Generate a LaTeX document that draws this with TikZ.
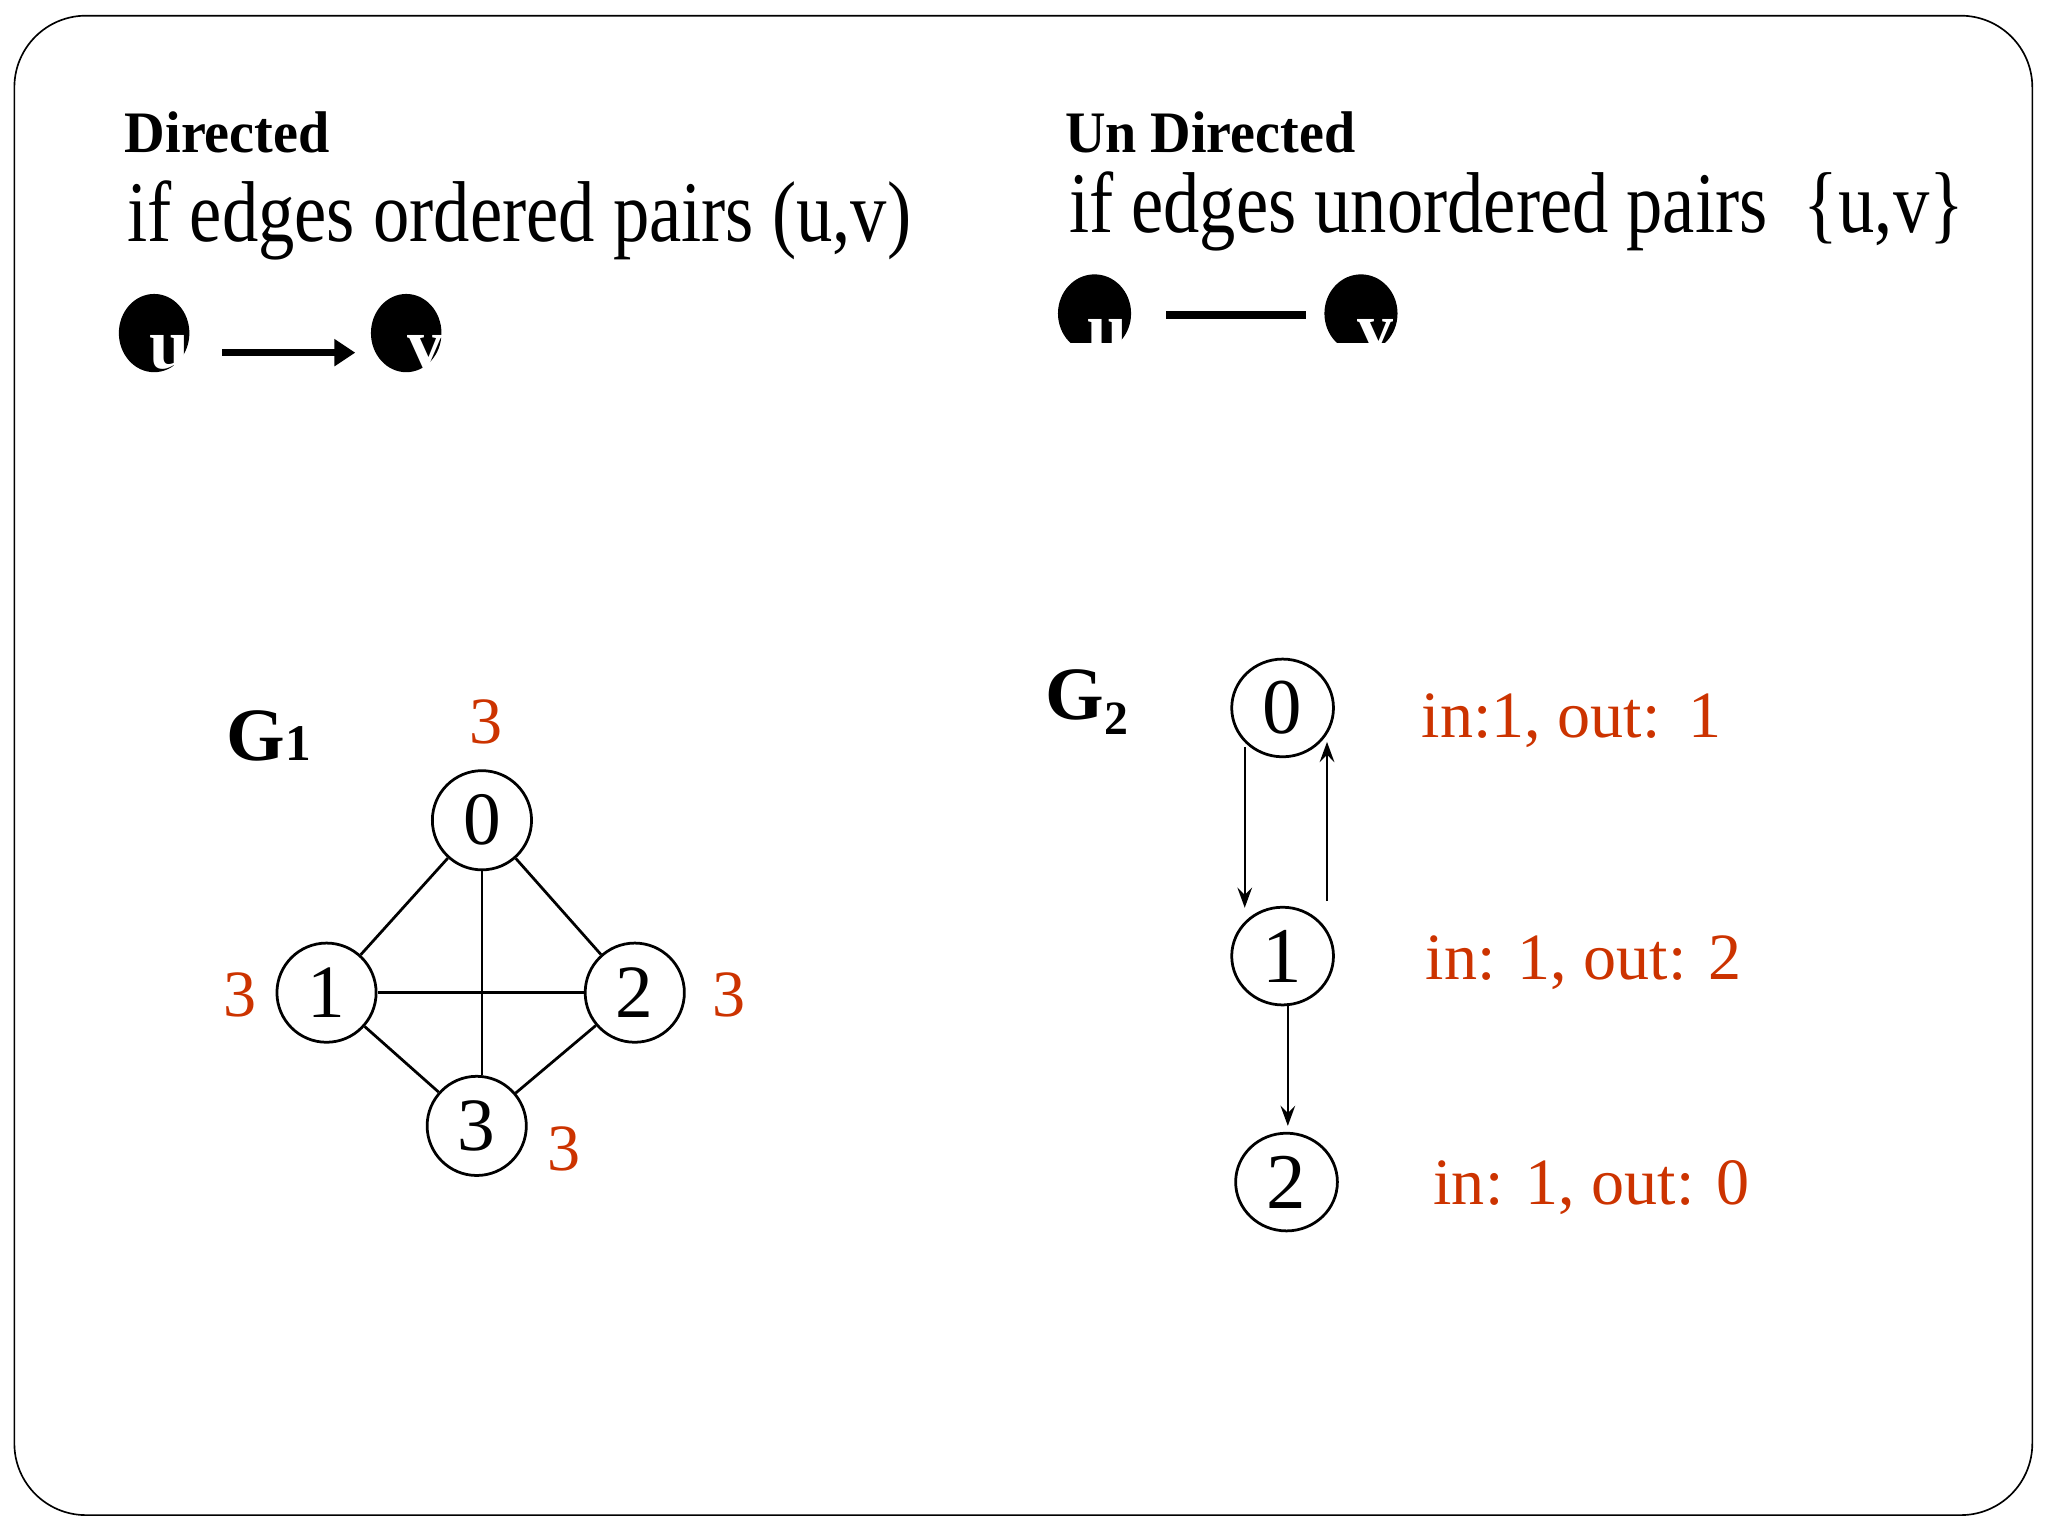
\documentclass[tikz,border=0pt]{standalone}
\usepackage{fontspec}
\setmainfont{Liberation Serif}
\usepackage{graphicx}
\usetikzlibrary{arrows.meta,shapes.geometric,calc}
\definecolor{degred}{RGB}{204,51,0}
\tikzset{
  g1node/.style={circle, draw, line width=0.75pt, minimum size=27pt, inner sep=0pt, font=\fontsize{20.5}{21}\selectfont},
  g2node/.style={ellipse, draw, line width=0.75pt, minimum width=27.7pt, minimum height=26.6pt, inner sep=0pt, font=\fontsize{21.5}{22}\selectfont},
  g1edge/.style={line width=0.75pt},
  g2arrow/.style={line width=0.6pt, -{Stealth[length=5.5pt,width=4pt,inset=2pt]}},
  degree/.style={text=degred, inner sep=0pt, font=\fontsize{18}{18}\selectfont},
  inout/.style={text=degred, inner sep=0pt, anchor=base west, font=\fontsize{18}{18}\selectfont},
  heading/.style={inner sep=0pt, anchor=base west, font=\fontsize{16}{16}\selectfont\bfseries},
  bigtext/.style={inner sep=0pt, anchor=base west, font=\fontsize{23.5}{24}\selectfont},
  blackdot/.style={ellipse, fill=black, inner sep=0pt, minimum width=19.2pt, minimum height=21.3pt},
  dotletter/.style={text=white, inner sep=0pt, anchor=base, font=\fontsize{19.6}{20}\selectfont\bfseries},
  glabel/.style={inner sep=0pt, anchor=base west, font=\fontsize{20.5}{21}\selectfont\bfseries},
}
\begin{document}
\begin{tikzpicture}[x=0.0125cm, y=-0.0125cm]
\useasboundingbox (0,0) rectangle (1568,1176);
\draw[line width=0.45pt, rounded corners=19.5pt] (11,12) rectangle (1556,1160);

% headings
\node[heading] (hdir) at (95,117) {\resizebox{55.8pt}{\height}{Directed}};
\node[bigtext] (hord) at (97,185) {\resizebox{213.4pt}{\height}{if edges ordered pairs (u,v)}};
\node[heading] (hun) at (815,117) {\resizebox{79pt}{\height}{Un Directed}};
\node[bigtext] (hunord) at (818,178) {\resizebox{243.6pt}{\height}{if edges unordered pairs\ \ \{u,v\}}};

% directed example
\node[blackdot] (du) at (118,255) {};
\node[blackdot] (dv) at (311,255) {};
\node[dotletter] (lu) at (130,282) {u};
\node[dotletter] (lv) at (326,282) {v};
\draw[line width=1.78pt, -{Triangle[length=5.7pt,width=7.1pt]}] ($(du.center)+(52,15)$) -- ($(dv.center)+(-39,15)$);

% undirected example
\begin{scope}
\clip (780,150) rectangle (1100,262);
\node[blackdot, minimum width=19.9pt] (uu) at (838,240) {};
\node[blackdot, minimum width=19.9pt] (uv) at (1042,240) {};
\node[dotletter] (luu) at (848,270) {u};
\node[dotletter] (luv) at (1053,270) {v};
\end{scope}
\draw[line width=2.13pt] ($(uu.center)+(55,1)$) -- ($(uv.center)+(-42,1)$);

% G1
\node[glabel] (g1lab) at (173,582) {G\fontsize{14}{14}\selectfont 1};
\node[g1node] (a0) at (369,628) {0};
\node[g1node] (a1) at (250,760) {1};
\node[g1node] (a2) at (486,760) {2};
\node[g1node] (a3) at (365,862) {3};
\draw[g1edge] (a0) -- (a1);
\draw[g1edge] (a0) -- (a2);
\draw[g1edge] (a0.south) -- (a0.south |- a3.north);
\draw[g1edge] (a1) -- (a2);
\draw[g1edge] (a1) -- (a3);
\draw[g1edge] (a2) -- (a3);
\node[degree] (d0) at (372,553) {3};
\node[degree] (d1) at (184,762) {3};
\node[degree] (d2) at (558,762) {3};
\node[degree] (d3) at (432,880) {3};

% G2
\node[glabel] (g2lab) at (800,551) {G\raisebox{-4pt}{\fontsize{13}{13}\selectfont 2}};
\node[g2node] (b0) at (982,542) {0};
\node[g2node] (b1) at (982,732) {1};
\node[g2node] (b2) at (985,905) {2};
\draw[g2arrow] ($(b0.center)+(-29,30)$) -- ($(b1.center)+(-29,-37)$);
\draw[g2arrow] ($(b1.center)+(34,-42)$) -- ($(b0.center)+(34,26)$);
\draw[g2arrow] ($(b1.center)+(4,36)$) -- ($(b2.center)+(1,-43)$);
\node[inout] (o0) at (1088,565) {in:1, out:\,\ 1};
\node[inout] (o1) at (1091,750) {in: 1, out: 2};
\node[inout] (o2) at (1097,922) {in: 1, out: 0};
\end{tikzpicture}
\end{document}
